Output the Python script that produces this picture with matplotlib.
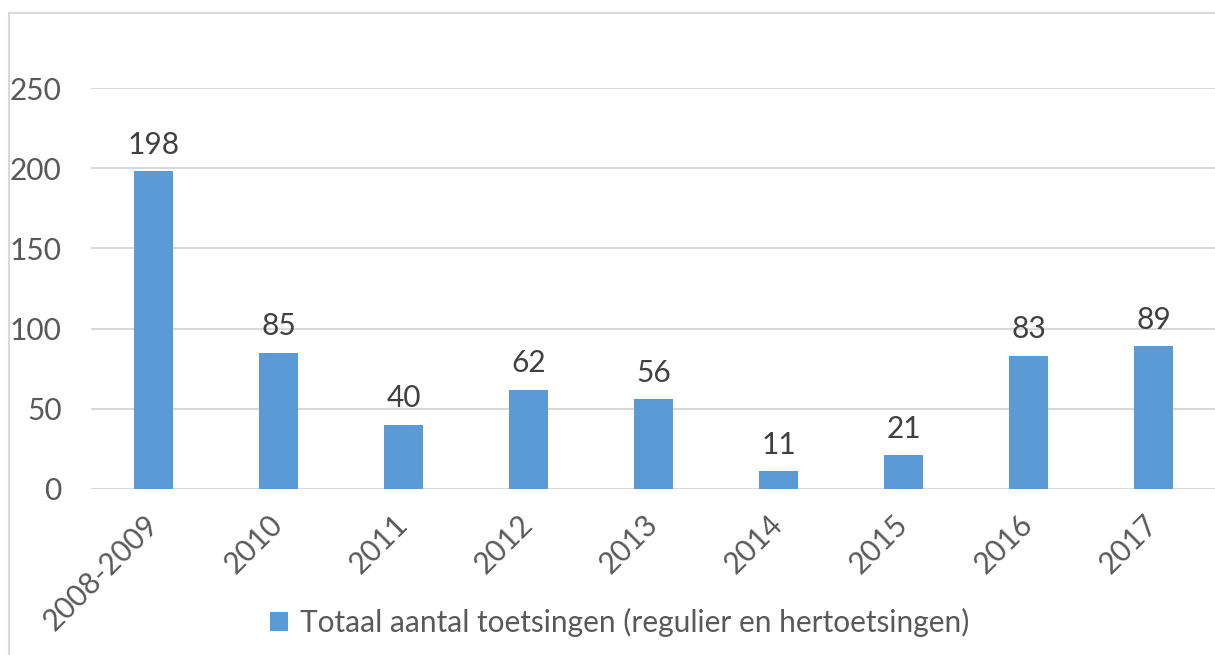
import matplotlib
matplotlib.use("Agg")
import matplotlib.pyplot as plt
from matplotlib.patches import Rectangle

categories = ["2008-2009", "2010", "2011", "2012", "2013", "2014", "2015", "2016", "2017"]
values = [198, 85, 40, 62, 56, 11, 21, 83, 89]
series_name = "Totaal aantal toetsingen (regulier en hertoetsingen)"
yticks = [0, 50, 100, 150, 200, 250]

plt.rcParams['font.family'] = ['Lato', 'DejaVu Sans']
FS = 21.5

W, H = 1215, 655
fig = plt.figure(figsize=(W / 100, H / 100), dpi=100)
fig.patch.set_facecolor("white")

# chart border (partially cropped)
fig.patches.append(Rectangle((8.5 / W, -0.1), 1.2, 1 - 13 / H + 0.1, transform=fig.transFigure,
                             fill=False, edgecolor="#D9D9D9", linewidth=1.5, zorder=0))

ax = fig.add_axes([91 / W, 1 - 489 / H, (1216 - 91) / W, (489 - 88) / H])
x = list(range(len(categories)))
bars = ax.bar(x, values, width=0.31, color="#5B9BD5", zorder=3, label=series_name)
ax.set_xlim(-0.5, len(categories) - 0.5)
ax.set_ylim(0, 250)
ax.set_yticks(yticks)
ax.grid(axis="y", color="#D9D9D9", linewidth=1.5, zorder=0)
for s in ax.spines.values():
    s.set_visible(False)
ax.tick_params(axis="both", length=0, labelsize=FS, colors="#595959")
ax.tick_params(axis="y", pad=21)
ax.set_xticks(x)
ax.set_xticklabels(categories, rotation=45, ha="right", va="center", rotation_mode="anchor")
ax.tick_params(axis="x", pad=22)

for xi, v in zip(x, values):
    ax.annotate(str(v), (xi, v), xytext=(0, 9), textcoords="offset points",
                ha="center", va="bottom", fontsize=FS, color="#404040", clip_on=False)

leg = fig.legend(handles=[bars], labels=[series_name], loc="center", bbox_to_anchor=(620 / W, 1 - 622 / H),
                 frameon=False, fontsize=FS, handlelength=0.6, handleheight=0.6, handletextpad=0.4)
for t in leg.get_texts():
    t.set_color("#595959")

fig.savefig("out.png", dpi=100, facecolor="white")
